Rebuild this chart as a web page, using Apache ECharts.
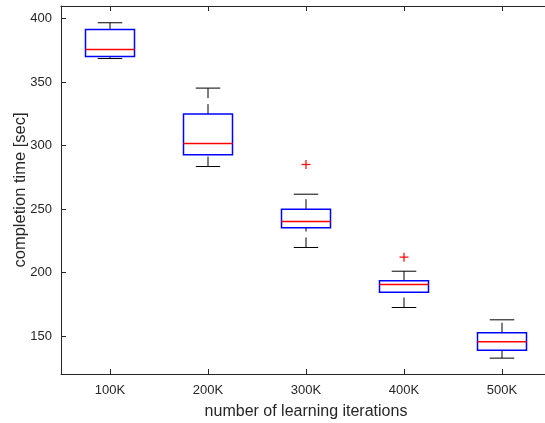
<!DOCTYPE html>
<html>
<head>
<meta charset="utf-8">
<script src="https://cdn.jsdelivr.net/npm/echarts@6/dist/echarts.min.js"></script>
<style>
html,body{margin:0;padding:0;background:#fff;}
#chart{width:545px;height:423px;}
</style>
</head>
<body>
<div id="chart"></div>
<script>
const categories = ['100K', '200K', '300K', '400K', '500K'];
const lowerWhisker = [368.6, 283.5, 219.7, 172.4, 132.5];
const q1 = [370.2, 292.7, 235.2, 184.5, 138.8];
const median = [375.7, 301.6, 240.2, 190.5, 145.4];
const q3 = [391.5, 324.8, 249.9, 193.4, 152.5];
const upperWhisker = [396.8, 345.3, 261.7, 201.0, 162.7];
const outlierCategory = ['300K', '400K'];
const outlierValue = [285.1, 212.1];
const yTicks = [150, 200, 250, 300, 350, 400];

const boxData = categories.map((c, i) => [i, lowerWhisker[i], q1[i], median[i], q3[i], upperWhisker[i]]);
const outlierData = outlierCategory.map((c, i) => [categories.indexOf(c), outlierValue[i]]);

const ink = '#262626';
const font = 'Liberation Sans, Arial, Helvetica, sans-serif';

function renderBox(params, api) {
  const idx = api.value(0);
  const bw = api.size([1, 0])[0] * 0.5;
  const cw = bw * 0.5;
  const pLo = api.coord([idx, api.value(1)]);
  const pQ1 = api.coord([idx, api.value(2)]);
  const pMed = api.coord([idx, api.value(3)]);
  const pQ3 = api.coord([idx, api.value(4)]);
  const pHi = api.coord([idx, api.value(5)]);
  const x = pMed[0];
  const dash = {stroke: '#000', lineWidth: 1, lineDash: [10, 6]};
  const solid = {stroke: '#000', lineWidth: 1};
  return {
    type: 'group',
    children: [
      {type: 'line', shape: {x1: x, y1: pLo[1], x2: x, y2: pQ1[1]}, style: dash},
      {type: 'line', shape: {x1: x, y1: pQ3[1], x2: x, y2: pHi[1]}, style: dash},
      {type: 'line', shape: {x1: x - cw / 2, y1: pLo[1], x2: x + cw / 2, y2: pLo[1]}, style: solid},
      {type: 'line', shape: {x1: x - cw / 2, y1: pHi[1], x2: x + cw / 2, y2: pHi[1]}, style: solid},
      {type: 'rect', shape: {x: x - bw / 2, y: pQ3[1], width: bw, height: pQ1[1] - pQ3[1]},
        style: {fill: 'rgba(0,0,0,0)', stroke: '#0000ff', lineWidth: 1.5}},
      {type: 'line', shape: {x1: x - bw / 2, y1: pMed[1], x2: x + bw / 2, y2: pMed[1]},
        style: {stroke: '#ff0000', lineWidth: 1.5}}
    ]
  };
}

function renderOutlier(params, api) {
  const p = api.coord([api.value(0), api.value(1)]);
  const h = 4.5;
  const st = {stroke: '#ff0000', lineWidth: 1.2};
  return {
    type: 'group',
    children: [
      {type: 'line', shape: {x1: p[0] - h, y1: p[1], x2: p[0] + h, y2: p[1]}, style: st},
      {type: 'line', shape: {x1: p[0], y1: p[1] - h, x2: p[0], y2: p[1] + h}, style: st}
    ]
  };
}

const chart = echarts.init(document.getElementById('chart'), null, {renderer: 'canvas'});
chart.setOption({
  animation: false,
  backgroundColor: '#ffffff',
  grid: {left: 61, top: 6, width: 490, height: 368, containLabel: false, outerBoundsMode: 'none'},
  xAxis: [{
    type: 'category',
    data: categories,
    position: 'bottom',
    boundaryGap: true,
    name: 'number of learning iterations',
    nameLocation: 'middle',
    nameGap: 30,
    nameMoveOverlap: false,
    nameTextStyle: {color: ink, fontSize: 16, fontFamily: font},
    axisLine: {show: true, lineStyle: {color: ink, width: 1}},
    axisTick: {show: true, inside: true, alignWithLabel: true, length: 5, lineStyle: {color: ink}},
    axisLabel: {color: ink, fontSize: 13, fontFamily: font, margin: 10},
    splitLine: {show: false}
  }, {
    type: 'category',
    data: categories,
    position: 'top',
    boundaryGap: true,
    axisLine: {show: true, lineStyle: {color: ink, width: 1}},
    axisTick: {show: true, inside: true, alignWithLabel: true, length: 5, lineStyle: {color: ink}},
    axisLabel: {show: false},
    splitLine: {show: false}
  }],
  yAxis: {
    type: 'value',
    min: 120,
    max: 410,
    name: 'completion time [sec]',
    nameLocation: 'middle',
    nameGap: 32,
    nameMoveOverlap: false,
    nameTextStyle: {color: ink, fontSize: 16.5, fontFamily: font},
    axisLine: {show: true, lineStyle: {color: ink, width: 1}},
    axisTick: {show: true, inside: true, length: 5, customValues: yTicks, lineStyle: {color: ink}},
    axisLabel: {color: ink, fontSize: 13, fontFamily: font, margin: 9, customValues: yTicks},
    splitLine: {show: false}
  },
  series: [{
    type: 'custom',
    renderItem: renderBox,
    data: boxData,
    encode: {x: 0, y: [1, 2, 3, 4, 5]},
    clip: false
  }, {
    type: 'custom',
    renderItem: renderOutlier,
    data: outlierData,
    encode: {x: 0, y: 1},
    clip: false
  }]
});
</script>
</body>
</html>
